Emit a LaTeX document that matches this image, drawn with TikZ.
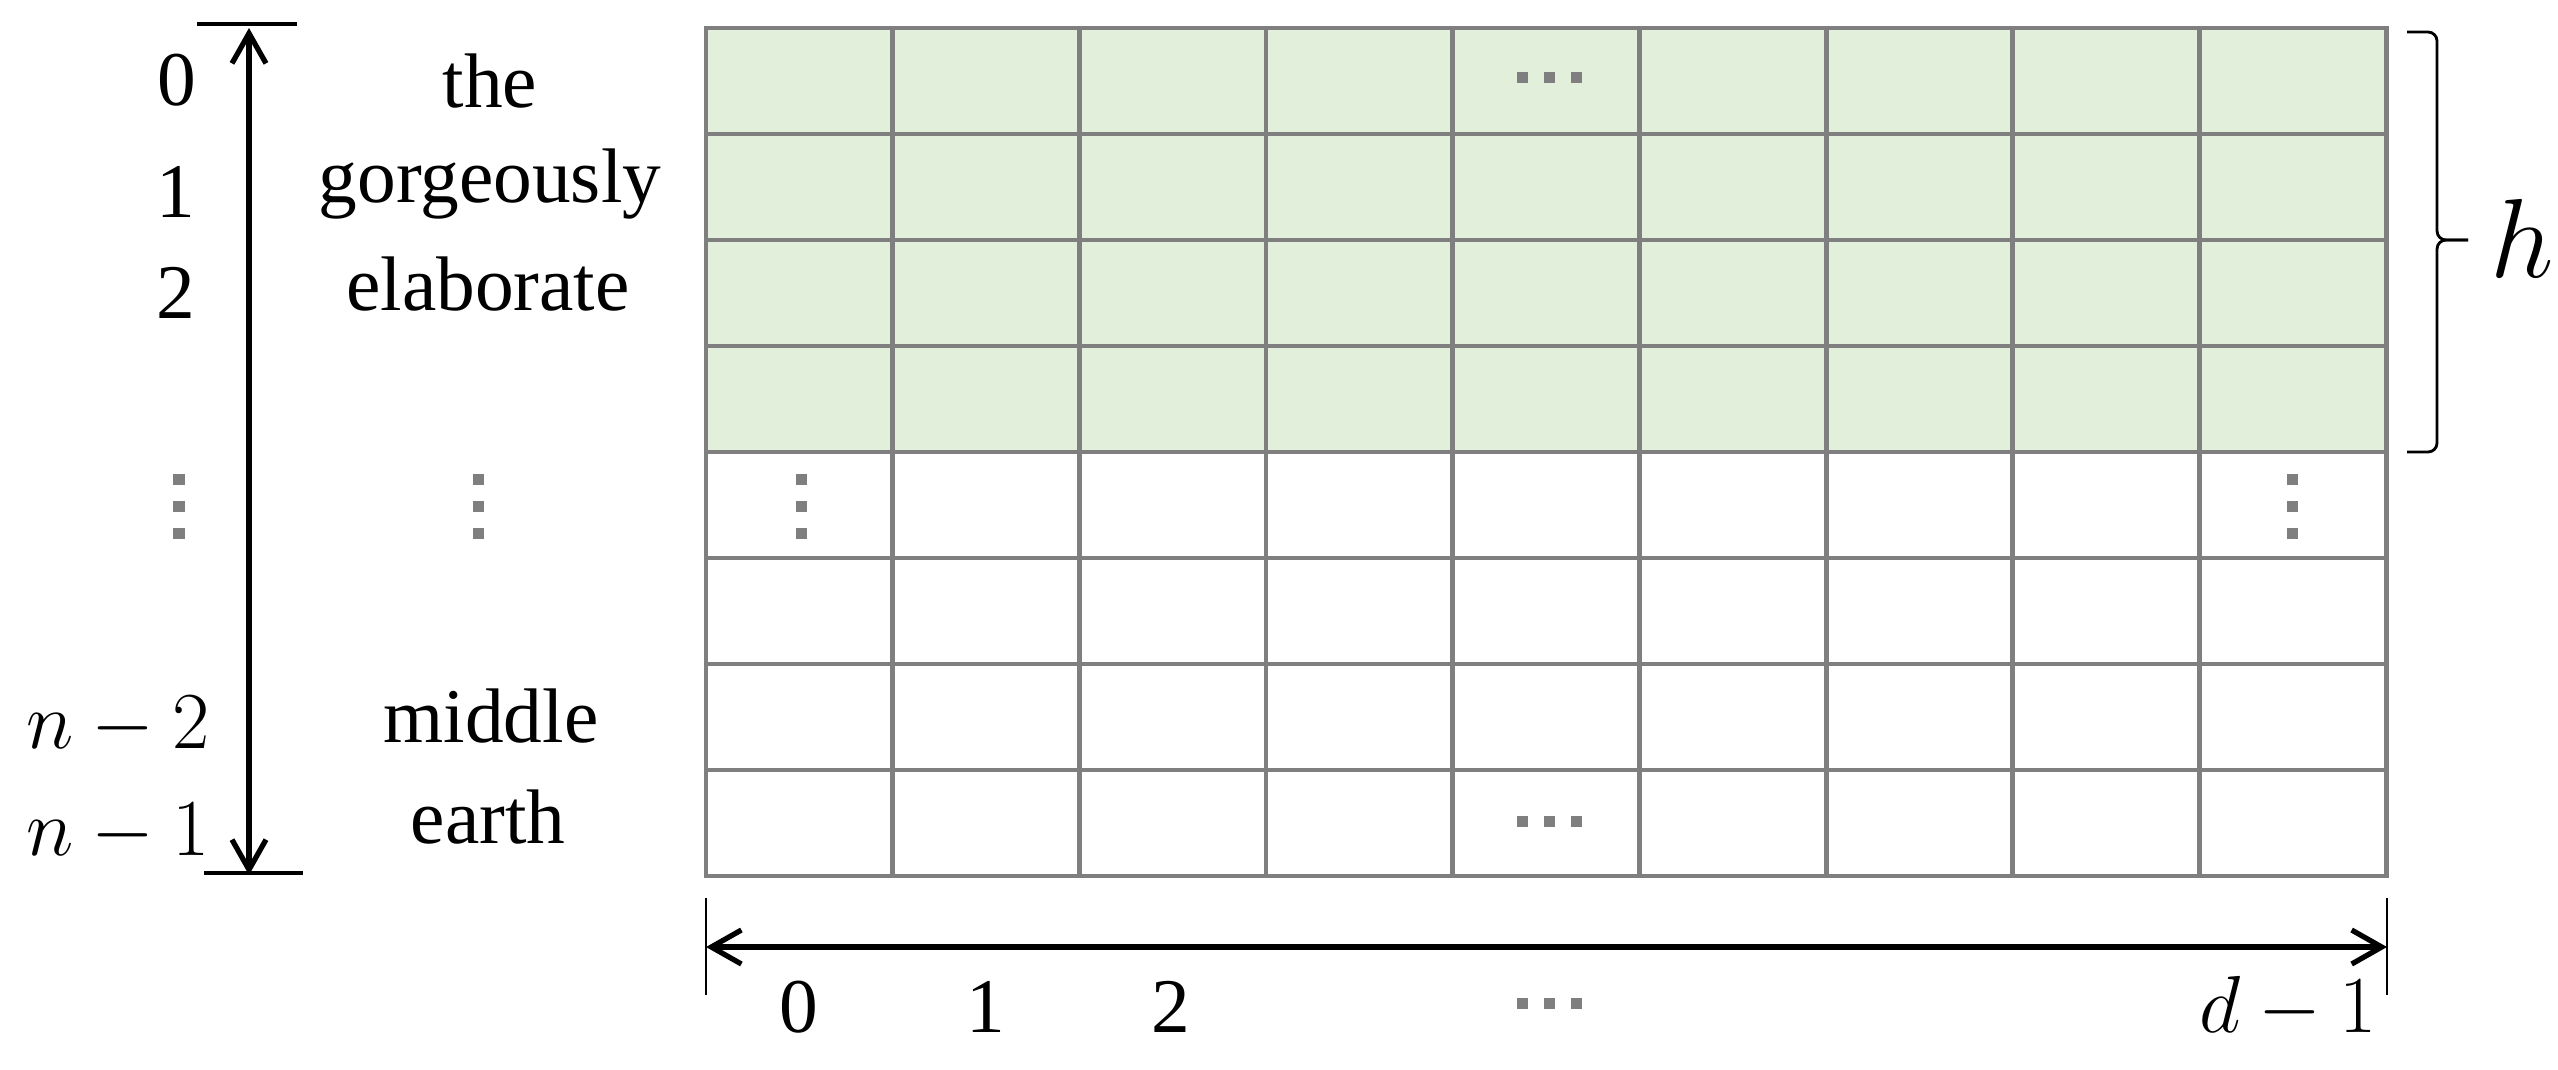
\RequirePackage{fix-cm}
\documentclass[tikz,border=0pt]{standalone}
\usepackage{fontspec}
\setmainfont{Liberation Serif}
\usetikzlibrary{arrows.meta}
\definecolor{gridgray}{HTML}{7F7F7F}
\definecolor{lightgreen}{HTML}{E2EFDA}
\begin{document}
\begin{tikzpicture}[x=0.01cm,y=-0.01cm,
  lbl/.style={font=\fontsize{22}{26}\selectfont, inner sep=0pt},
  mlbl/.style={font=\fontsize{23}{27}\selectfont, inner sep=0pt},
  gline/.style={draw=gridgray, line width=1.4pt},
  gdot/.style={fill=gridgray, draw=none, rectangle, minimum size=0.11cm, inner sep=0pt},
  dimarrow/.style={line width=1.5pt, {Straight Barb[length=0.3cm,width=0.34cm]}-{Straight Barb[length=0.3cm,width=0.34cm]}},
  barline/.style={line width=1.1pt},
  tickline/.style={line width=0.7pt},
  braceline/.style={line width=0.8pt, rounded corners=0.09cm}]
\useasboundingbox (0,0) rectangle (2558,1069);
% grid
\fill[lightgreen] (706,28) rectangle (2386,452);
\foreach \i in {1,...,8} \draw[gline] ({706+\i*186.67},28) -- ({706+\i*186.67},876);
\foreach \j in {1,...,7} \draw[gline] (706,{28+\j*106}) -- (2386,{28+\j*106});
\draw[gline] (706,28) rectangle (2386,876);
% dots in grid
\foreach \x in {1522,1549,1576} {
  \node[gdot] at (\x,77) {};
  \node[gdot] at (\x,821) {};
  \node[gdot] at (\x,1003) {};
}
\foreach \y in {479,506,533} {
  \node[gdot] at (801,\y) {};
  \node[gdot] at (2292,\y) {};
  \node[gdot] at (179,\y) {};
  \node[gdot] at (478,\y) {};
}
% left dimension
\coordinate (vtop) at (249,28);
\coordinate (vbot) at (249,875);
\coordinate (tb1) at (197,24); \coordinate (tb2) at (297,24);
\coordinate (bb1) at (204,873); \coordinate (bb2) at (303,873);
\draw[barline] (tb1) -- (tb2);
\draw[barline] (bb1) -- (bb2);
\draw[dimarrow] (vtop) -- (vbot);
% left labels
\node[lbl, anchor=base east] (r0) at (197,105) {0};
\node[lbl, anchor=base east] (r1) at (196,217) {1};
\node[lbl, anchor=base east] (r2) at (196,318) {2};
\node[mlbl, anchor=base east] (rn2) at (210,748) {$n-2$};
\node[mlbl, anchor=base east] (rn1) at (210,855) {$n-1$};
% words
\node[lbl, anchor=base] (w1) at (490,107) {the};
\node[lbl, anchor=base] (w2) at (490,202) {gorgeously};
\node[lbl, anchor=base] (w3) at (488,310) {elaborate};
\node[lbl, anchor=base] (w4) at (491,742) {middle};
\node[lbl, anchor=base] (w5) at (488,843) {earth};
% bottom dimension
\coordinate (hl) at (706,947);
\coordinate (hr) at (2387,947);
\coordinate (tl1) at (706,898); \coordinate (tl2) at (706,995);
\coordinate (tr1) at (2387,898); \coordinate (tr2) at (2387,995);
\draw[tickline] (tl1) -- (tl2);
\draw[tickline] (tr1) -- (tr2);
\draw[dimarrow] (hl) -- (hr);
\node[lbl, anchor=base] (c0) at (799,1032) {0};
\node[lbl, anchor=base] (c1) at (986,1032) {1};
\node[lbl, anchor=base] (c2) at (1171,1032) {2};
\node[mlbl, anchor=base east] (cd) at (2377,1032) {$d-1$};
% brace and h
\coordinate (br1) at (2407,32);
\coordinate (brtip) at (2468,240);
\coordinate (br2) at (2407,452);
\draw[braceline] (br1) -- (2437,32) -- (2437,240) -- (brtip);
\draw[braceline] (brtip) -- (2437,240) -- (2437,452) -- (br2);
\node[inner sep=0pt, anchor=base west, font=\fontsize{32}{36}\selectfont] (hlab) at (2490,277) {$h$};
\end{tikzpicture}
\end{document}
